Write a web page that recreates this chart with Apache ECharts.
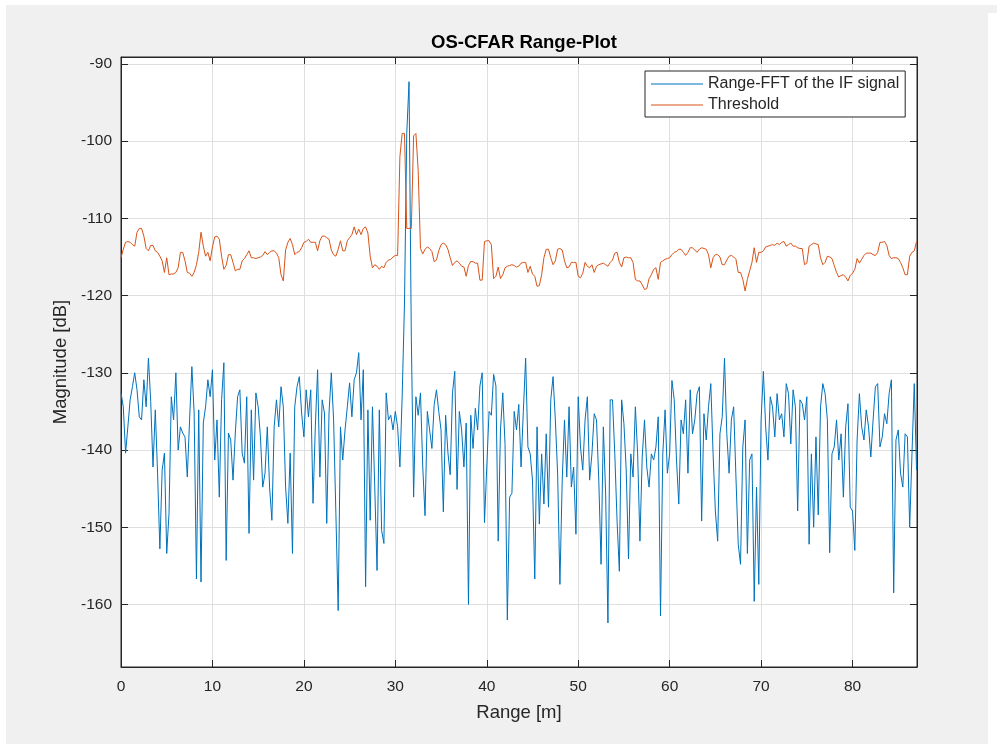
<!DOCTYPE html>
<html><head><meta charset="utf-8">
<script src="https://cdn.jsdelivr.net/npm/echarts@6/dist/echarts.min.js"></script>
<style>
html,body{margin:0;padding:0;background:#fff;width:997px;height:744px;overflow:hidden;}
#bg1{position:absolute;left:6px;top:5px;width:982px;height:739px;background:#f0f0f0;}
#bg2{position:absolute;left:988px;top:5px;width:9px;height:8px;background:#f0f0f0;}
#chart{position:absolute;left:0;top:0;width:997px;height:744px;}
</style></head><body>
<div id="bg1"></div><div id="bg2"></div><div id="chart"></div>
<script>
const titleText = 'OS-CFAR Range-Plot';
const xAxisName = 'Range [m]';
const yAxisName = 'Magnitude [dB]';
const seriesNames = ['Range-FFT of the IF signal', 'Threshold'];
const xLimits = [0, 87.05];
const yLimits = [-168.1, -89.1];
const rangeStartM = 0;
const rangeStepM = 0.25;

const fftMagnitudeDb = [
-132.6,-134.4,-140.4,-137,-133.5,-131.8,-130,-132.2,-135.7,-136.1,
-130.9,-134.4,-128.1,-133.7,-142.2,-134.8,-143,-152.8,-142.6,-140.4,
-153.4,-148.2,-133.1,-136.1,-130,-140,-137,-137.8,-138.3,-143.5,
-136.1,-129.2,-135.2,-156.7,-134.8,-157.1,-136.5,-134.4,-130.9,-133.1,
-129.6,-141.3,-136.1,-146.1,-133.5,-128.7,-154.3,-137.8,-138.7,-143.9,
-137.8,-133.1,-132.2,-140.4,-141.7,-133.1,-150.8,-134.8,-143.9,
-132.6,-134.4,-138.3,-144.8,-143,-137,-144.8,-149.1,-137,-133.5,
-137,-131.8,-134.4,-144.8,-149.5,-140.4,-153.4,-134.4,-131.8,-130.5,
-135.2,-138.3,-132.2,-135.7,-132.2,-146.9,-137,-129.6,-143.5,-133.5,
-135.2,-149.5,-135.2,-130,-136.1,-148.2,-160.8,-137,-141.3,-137.4,
-134.4,-131.3,-135.7,-130.9,-130,-127.4,-136.1,-129.6,-157.7,-134.8,
-149.1,-134.4,-144.8,-155.6,-134.8,-150.4,-152.1,-132.6,-136.1,
-135.5,-137.4,-135,-137,-142.2,-133,-121.1,-99,-92.3,-125.4,
-146.1,-133.1,-135.5,-132.6,-142.2,-148.5,-135,-137.4,-139.8,-134.1,
-132.2,-135,-137.4,-148,-135.5,-140.3,-143.2,-132.6,-129.8,-145.1,
-135,-137.4,-142.2,-136.5,-160,-135.5,-139.8,-134.6,-137.4,-131.7,
-130,-149.4,-142.2,-135,-135.5,-130.2,-131.7,-151.8,-137.4,-132.6,
-139.3,-162,-146.1,-145.6,-135,-137.4,-134.1,-142.2,-135,
-128.1,-139.6,-140.5,-143.9,-156.7,-137,-149.6,-140.5,-147,-137.9,
-147.4,-133.5,-130.5,-136.1,-143.1,-157.4,-143.9,-136.1,-143.5,-134.4,
-144.8,-142.2,-150.9,-133.1,-139.6,-142.6,-136.1,-133.1,-143.9,-140.5,
-135.3,-136.1,-143.9,-154.8,-137,-145.7,-162.4,-133.5,-133.5,-140.5,
-149.2,-155.7,-133.5,-136.6,-142.6,-154.1,-140.5,-143.5,-134.4,-140.5,
-151.8,-140.9,-136.1,-142.2,-144.8,-140.5,-141.3,-139.6,-135.7,
-161.5,-140.5,-134.8,-143,-140.5,-131,-133.5,-141.3,-147,-136.1,
-137.9,-133.5,-143,-132.2,-137.9,-136.1,-132.7,-131.8,-149.2,-135.3,
-138.7,-134.4,-131.4,-140.5,-147.9,-151.8,-137.9,-135.7,-128.1,-137.9,
-143,-136.1,-134.4,-143.5,-152.2,-154.8,-139.6,-136.1,-153.4,-141.3,
-140.5,-159.6,-144.8,-157.4,-136.1,-129.8,-137,-141.3,-133.1,-134.4,
-138.3,-132.7,-136.1,-135.3,-138.3,-131.4,-132.7,-139.2,-132.2,
-134.4,-147.9,-133.5,-134,-136.1,-133.1,-152.2,-140.5,-150,-138.3,
-148.4,-134.4,-131.4,-132.7,-136.1,-153.3,-140.5,-139.6,-136.1,-141.3,
-137.9,-146.1,-137,-134,-147.4,-147.9,-153,-138.7,-132.7,-137,
-138.7,-134.8,-137,-140.9,-136.1,-131.8,-131.4,-139.6,-138.3,-135.3,
-136.6,-132.7,-130.9,-158.5,-138.7,-137.4,-143,-144.8,-137.9,-138.3,
-150,-140.5,-131.4,-142.6
];

const thresholdDb = [
-115.1,-114,-113.1,-113,-113.1,-113.4,-113.6,-111.8,-111.3,-111.3,
-112.3,-113.9,-114.2,-113.5,-113.5,-114.2,-114.4,-114.9,-115.5,-117,
-115.1,-117.3,-117.2,-117.2,-117,-116.4,-114.4,-114.4,-115.5,-117,
-117.1,-117.5,-117,-116,-114.4,-111.8,-113.6,-114.9,-114.4,-115.5,
-113.7,-112.4,-112.3,-112.7,-114.9,-116.6,-116.1,-114.7,-114.7,-115.7,
-116.8,-116.6,-116.6,-115.5,-115.2,-114.7,-114.2,-115.1,-115.1,
-115.2,-115.1,-115,-114.8,-114.3,-114.7,-114.4,-114.2,-114.2,-114.5,
-115.1,-117.3,-118.1,-114.1,-113.1,-112.6,-113.4,-114.7,-114.4,-114.3,
-113.8,-113.1,-113,-112.7,-113.1,-113.1,-113.1,-114.2,-112.9,-112.3,
-112.3,-112.5,-112.7,-114.1,-114.7,-114.9,-114,-112.9,-114.2,-114.2,
-112.9,-112.5,-112.1,-111.1,-112.1,-111.4,-112.1,-111.3,-111.1,-111.9,
-114.9,-116.4,-116,-116.2,-116.6,-116.2,-116.4,-115.7,-115.4,
-115.3,-115,-114.8,-114.8,-102,-99,-99,-111.3,-111.3,-111.3,
-99.3,-99,-103.8,-113.9,-114.6,-114,-113.7,-113.9,-114.3,-115.6,
-115.4,-114.2,-113.4,-113.2,-113.4,-114,-115.1,-116.1,-115.7,-115.5,
-115.8,-116.2,-116.3,-117.5,-116.1,-115.6,-115.6,-115.8,-115.8,-118,
-118,-113,-112.9,-112.9,-113.4,-117.8,-117.5,-116.3,-117.8,-117.3,
-116.4,-116.2,-116.1,-116,-116.1,-116.3,-116.2,-115.8,-115.7,
-115.7,-117,-116.2,-117.2,-117.5,-118.8,-118.7,-117.3,-115.1,-114,
-114,-115.1,-116,-115.5,-114,-113.9,-114.1,-115.5,-116.4,-116.3,
-115.7,-115.7,-115.7,-117.5,-117.7,-117.1,-115.7,-116.2,-116.4,-116,
-117,-116.2,-116,-115.9,-115.8,-116,-116.2,-115.7,-115.4,-114.5,
-114.4,-115.7,-116.3,-115.1,-115,-115.1,-115.1,-115.7,-117.9,-118.1,
-118.1,-118.6,-119.2,-119.1,-117.8,-117.3,-116.6,-116.4,-117.9,
-115.7,-115.5,-115.3,-115.2,-115.1,-114.7,-114.4,-114.3,-114,-114,
-114.4,-114.8,-114.4,-113.8,-113.8,-114.1,-114.4,-114,-113.8,-113.9,
-114,-114.7,-116.4,-115.1,-114.7,-114.7,-115,-116,-116,-115.4,
-114.9,-114.8,-115,-115.3,-117,-117,-117.9,-119.4,-117.9,-116.8,
-115.7,-113.8,-115.7,-114.4,-114.4,-114.2,-113.7,-113.6,-113.5,-113.4,
-113.5,-113.2,-113.4,-113.1,-113,-113.6,-113.4,-113.2,-113.6,
-113.6,-113.8,-113.9,-113.9,-116,-115.8,-113.6,-113.4,-113.2,-113.3,
-113.4,-115.1,-116,-115.7,-114.9,-115,-115.2,-116.1,-117,-117.6,
-117.4,-117.3,-117.6,-118.1,-117.4,-117.1,-116.6,-115.2,-115.8,-115.3,
-114.8,-114.5,-114.5,-114.5,-114.7,-114.8,-114.4,-113.1,-113.1,-113,
-113.5,-114.8,-115.2,-115.1,-115.1,-115.2,-115.7,-116.4,-117.3,-117.3,
-114.9,-114.4,-114.2,-113
];

const toPairs = arr => arr.map((v, i) => [rangeStartM + i * rangeStepM, v]);

const axisColor = '#262626';
const gridColor = '#dfdfdf';
const font = '"Liberation Sans", Arial, Helvetica, sans-serif';
const blue = '#0072BD';
const orange = '#D95319';

function tick() { return { show: true, inside: true, length: 7, lineStyle: { color: axisColor, width: 1 } }; }
function line() { return { show: true, onZero: false, lineStyle: { color: axisColor, width: 1 } }; }

const chart = echarts.init(document.getElementById('chart'), null, { renderer: 'canvas' });
chart.setOption({
  animation: false,
  backgroundColor: 'transparent',
  title: {
    text: titleText, left: 519, top: 28, textAlign: 'center',
    textStyle: { fontFamily: font, fontSize: 18.5, fontWeight: 'bold', color: '#000' }
  },
  legend: {
    orient: 'vertical', left: 645, top: 71,
    backgroundColor: '#ffffff', borderColor: axisColor, borderWidth: 1, borderRadius: 0,
    padding: [5, 6, 4, 6], itemWidth: 52, itemHeight: 1, itemGap: 5, icon: 'rect',
    textStyle: { fontFamily: font, fontSize: 16, color: axisColor, lineHeight: 16 },
    data: seriesNames
  },
  grid: {
    left: 121, right: 80, top: 57, bottom: 77,
    show: true, backgroundColor: '#ffffff', borderColor: axisColor, borderWidth: 1,
    containLabel: false, outerBoundsMode: 'none'
  },
  xAxis: [{
    type: 'value', min: xLimits[0], max: xLimits[1], interval: 10, position: 'bottom',
    axisLine: line(), axisTick: tick(),
    axisLabel: { showMaxLabel: false, color: axisColor, fontFamily: font, fontSize: 15.5, margin: 12 },
    splitLine: { show: true, lineStyle: { color: gridColor, width: 1 } },
    name: xAxisName, nameLocation: 'middle', nameGap: 36,
    nameTextStyle: { fontFamily: font, fontSize: 18.5, color: axisColor }
  }, {
    type: 'value', min: xLimits[0], max: xLimits[1], interval: 10, position: 'top',
    axisLine: line(), axisTick: tick(), axisLabel: { show: false }, splitLine: { show: false }
  }],
  yAxis: [{
    type: 'value', min: yLimits[0], max: yLimits[1], splitNumber: 8, position: 'left',
    axisLine: line(), axisTick: tick(),
    axisLabel: { showMinLabel: false, showMaxLabel: false, color: axisColor, fontFamily: font, fontSize: 15.5, margin: 9 },
    splitLine: { show: true, lineStyle: { color: gridColor, width: 1 } },
    name: yAxisName, nameLocation: 'middle', nameGap: 49,
    nameTextStyle: { fontFamily: font, fontSize: 18.5, color: axisColor }
  }, {
    type: 'value', min: yLimits[0], max: yLimits[1], splitNumber: 8, position: 'right',
    axisLine: line(), axisTick: tick(), axisLabel: { show: false }, splitLine: { show: false }
  }],
  series: [{
    name: seriesNames[0], type: 'line', data: toPairs(fftMagnitudeDb),
    showSymbol: false, symbol: 'none', itemStyle: { color: blue },
    lineStyle: { color: blue, width: 1 }, xAxisIndex: 0, yAxisIndex: 0, z: 2
  }, {
    name: seriesNames[1], type: 'line', data: toPairs(thresholdDb),
    showSymbol: false, symbol: 'none', itemStyle: { color: orange },
    lineStyle: { color: orange, width: 1 }, xAxisIndex: 0, yAxisIndex: 0, z: 3
  }]
});
</script>
</body></html>
